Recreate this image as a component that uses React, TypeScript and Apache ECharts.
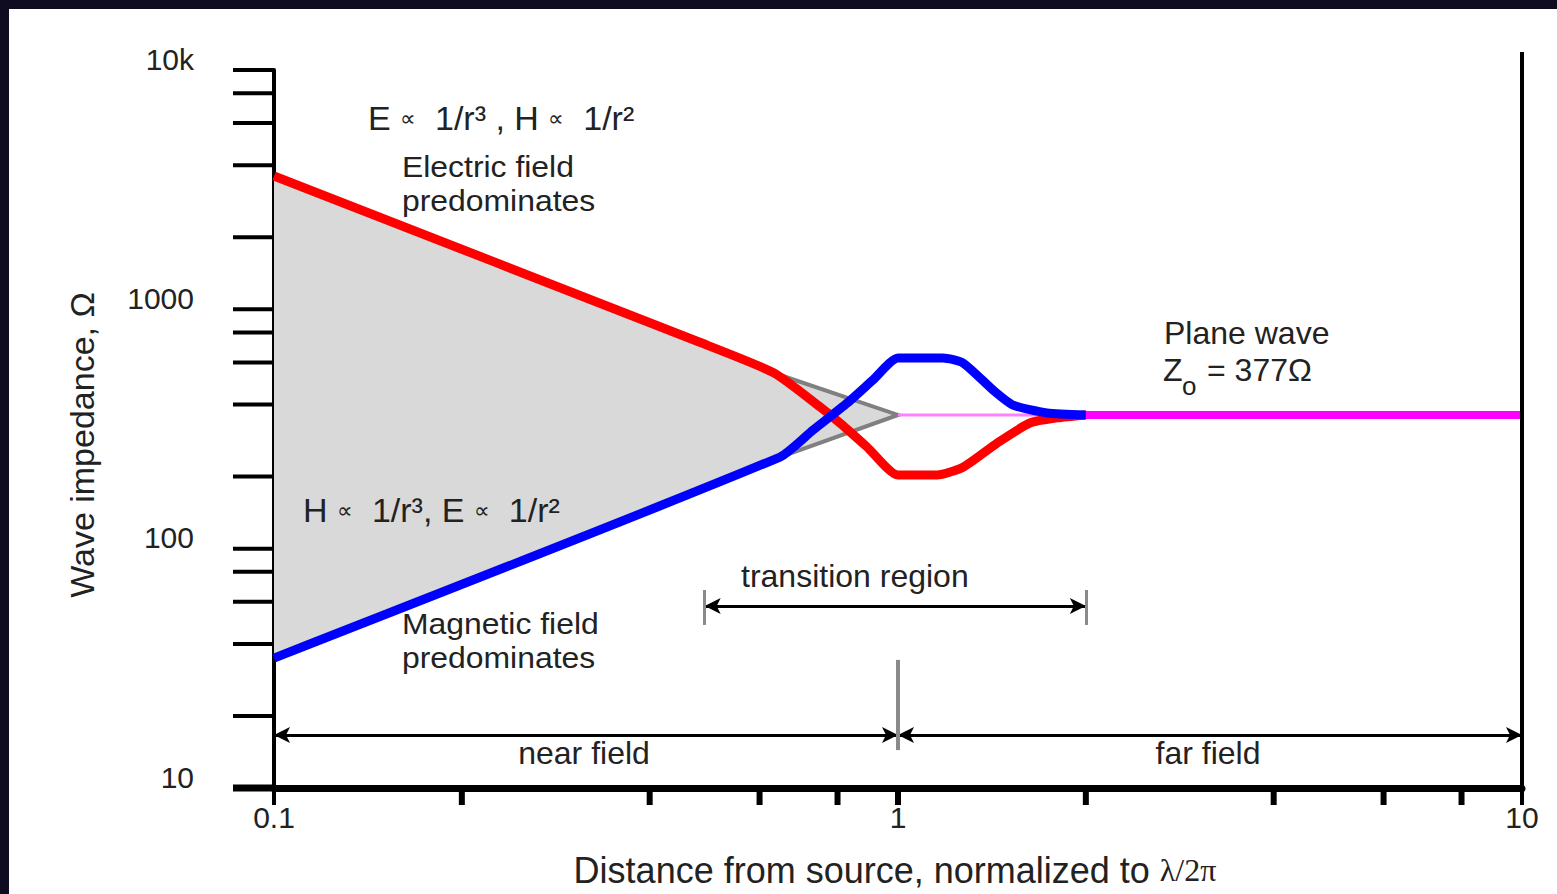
import React, { useEffect, useRef } from "react";
import * as echarts from "echarts";

// ---------- data ----------
const xTicks = [0.1, 0.2, 0.4, 0.6, 0.8, 1, 2, 4, 6, 8, 10];
const yTicks = [10, 20, 40, 60, 80, 100, 200, 400, 600, 800, 1000, 2000, 4000, 6000, 8000, 10000];

// Electric-field dominated wave impedance (red)
const eFieldX = [0.1, 0.48, 0.633, 0.75, 0.807, 0.892, 1.0, 1.155, 1.271, 1.441, 1.627, 1.798, 2.0];
const eFieldY = [3606, 730, 542, 391, 335, 266, 203, 203, 219, 276, 335, 352, 362];

// Magnetic-field dominated wave impedance (blue)
const hFieldX = [0.1, 0.647, 0.731, 0.829, 0.912, 1.0, 1.18, 1.271, 1.42, 1.529, 1.733, 2.0];
const hFieldY = [34.9, 241.5, 313, 406, 507, 626, 626, 597, 460, 398, 369, 362];

// near-field shaded wedge
const nearTopX = [0.1, 0.48, 0.633, 1.0];
const nearTopY = [3606, 730, 542, 362];
const nearBottomX = [1.0, 0.647, 0.1];
const nearBottomY = [362, 241.5, 34.9];

// plane wave impedance
const planeZ = 362;
const transitionPlaneX = [1.0, 2.0];
const farPlaneX = [2.0, 10];

// region arrows
const nearRange = [0.1, 1];
const farRange = [1, 10];
const transitionRange = [0.49, 2.0];
const regionArrowY = 16.65;
const transitionArrowY = 57.6;
const boundaryMark = [14.4, 34.3];
const transitionMark = [48, 67.2];

const FONT = "'Liberation Sans', Arial, Helvetica, sans-serif";
const INK = "#222";

const zip = (xs: number[], ys: number[]) => xs.map((x, i) => [x, ys[i]]);

function txt(x: number, y: number, text: string, size = 32, extra: any = {}, el: any = {}) {
  return {
    type: "text",
    x,
    y,
    z: 100,
    silent: true,
    ...el,
    style: {
      text,
      fill: INK,
      fontSize: size,
      fontFamily: FONT,
      textAlign: "left",
      textVerticalAlign: "middle",
      align: "left",
      verticalAlign: "middle",
      ...extra,
    },
  };
}

export default function App() {
  const ref = useRef<HTMLDivElement>(null);

  useEffect(() => {
    if (!ref.current) return;
    const chart = echarts.init(ref.current, undefined, { renderer: "svg" });

    const rich = {
      t: { fontSize: 34, fontFamily: FONT, fill: INK, color: INK },
      p: { fontSize: 22, fontFamily: FONT, fill: INK, color: INK },
    };

    const markStyle = (w: number) => ({ symbol: "none", lineStyle: { color: "#8a8a8a", width: w, type: "solid" } });

    const option: any = {
      animation: false,
      backgroundColor: "#ffffff",
      grid: { left: 274, right: 35, top: 70, bottom: 106 },
      xAxis: {
        type: "log",
        logBase: 10,
        min: 0.1,
        max: 10,
        axisLine: { show: true, onZero: false, lineStyle: { color: "#000", width: 7 } },
        axisTick: { show: false },
        splitLine: { show: false },
        axisLabel: {
          color: INK,
          fontSize: 30,
          fontFamily: FONT,
          margin: 14,
          formatter: (v: number) => String(+Number(v).toPrecision(3)),
        },
      },
      yAxis: {
        type: "log",
        logBase: 10,
        min: 10,
        max: 10000,
        axisLine: { show: true, lineStyle: { color: "#000", width: 4 } },
        axisTick: { show: false },
        splitLine: { show: false },
        axisLabel: {
          color: INK,
          fontSize: 30,
          fontFamily: FONT,
          margin: 80,
          verticalAlign: "bottom",
          lineHeight: 22,
          formatter: (v: number) => (v >= 10000 ? "10k" : String(Math.round(v))),
        },
      },
      series: [
        {
          name: "near field wedge",
          type: "custom",
          silent: true,
          z: 1,
          data: [[nearTopX[0], nearTopY[0]]],
          renderItem: (_p: any, api: any) => {
            const top = nearTopX.map((x, i) => api.coord([x, nearTopY[i]]));
            const bot = nearBottomX.map((x, i) => api.coord([x, nearBottomY[i]]));
            return {
              type: "group",
              children: [
                {
                  type: "polygon",
                  shape: { points: [...top, ...bot] },
                  style: { fill: "#d9d9d9", stroke: null },
                },
                {
                  type: "polyline",
                  shape: { points: [top[2], top[3], bot[1]] },
                  style: { stroke: "#808080", lineWidth: 4, fill: null },
                },
              ],
            };
          },
        },
        {
          name: "plane wave (transition)",
          type: "line",
          silent: true,
          z: 2,
          symbol: "none",
          data: zip(transitionPlaneX, [planeZ, planeZ]),
          lineStyle: { color: "#ff80ff", width: 3 },
          markLine: {
            silent: true,
            symbol: ["arrow", "arrow"],
            symbolSize: [12, 16],
            label: { show: false },
            lineStyle: { color: "#000", width: 3, type: "solid" },
            data: [
              [{ coord: [nearRange[0], regionArrowY] }, { coord: [nearRange[1], regionArrowY] }],
              [{ coord: [farRange[0], regionArrowY] }, { coord: [farRange[1], regionArrowY] }],
              [
                { coord: [transitionRange[0], transitionArrowY] },
                { coord: [transitionRange[1], transitionArrowY] },
              ],
              [
                { coord: [1, boundaryMark[0]], ...markStyle(4) },
                { coord: [1, boundaryMark[1]], ...markStyle(4) },
              ],
              [
                { coord: [transitionRange[0], transitionMark[0]], ...markStyle(3) },
                { coord: [transitionRange[0], transitionMark[1]], ...markStyle(3) },
              ],
              [
                { coord: [transitionRange[1], transitionMark[0]], ...markStyle(3) },
                { coord: [transitionRange[1], transitionMark[1]], ...markStyle(3) },
              ],
            ],
          },
        },
        {
          name: "E field",
          type: "line",
          silent: true,
          z: 3,
          symbol: "none",
          smooth: 0.2,
          data: zip(eFieldX, eFieldY),
          lineStyle: { color: "#ff0000", width: 9 },
        },
        {
          name: "H field",
          type: "line",
          silent: true,
          z: 4,
          symbol: "none",
          smooth: 0.2,
          data: zip(hFieldX, hFieldY),
          lineStyle: { color: "#0000ff", width: 9 },
        },
        {
          name: "plane wave",
          type: "line",
          silent: true,
          z: 5,
          symbol: "none",
          data: zip(farPlaneX, [planeZ, planeZ]),
          lineStyle: { color: "#ff00ff", width: 8 },
        },
        {
          name: "y ticks",
          type: "custom",
          silent: true,
          z: 6,
          data: yTicks.map((v) => [0.1, v]),
          renderItem: (_p: any, api: any) => {
            const v = api.value(1);
            const p = api.coord([0.1, v]);
            return {
              type: "line",
              shape: { x1: p[0] - 41, y1: p[1], x2: p[0], y2: p[1] },
              style: { stroke: "#000", lineWidth: v === 10 ? 7 : 4 },
            };
          },
        },
        {
          name: "x ticks",
          type: "custom",
          silent: true,
          z: 6,
          data: xTicks.map((v) => [v, 10]),
          renderItem: (_p: any, api: any) => {
            const v = api.value(0);
            const p = api.coord([v, 10]);
            const edge = v === 0.1 || v === 10;
            const topY = v === 10 ? api.coord([10, 10000])[1] - 18 : p[1];
            return {
              type: "line",
              shape: { x1: p[0], y1: p[1] + 17, x2: p[0], y2: topY },
              style: { stroke: "#000", lineWidth: edge ? 4 : 6 },
            };
          },
        },
      ],
      graphic: [
        { type: "rect", z: 100, silent: true, shape: { x: 0, y: 0, width: 1557, height: 9 }, style: { fill: "#0f0c22" } },
        { type: "rect", z: 100, silent: true, shape: { x: 0, y: 0, width: 9, height: 894 }, style: { fill: "#0f0c22" } },
        {
          type: "text",
          x: 368,
          y: 118,
          z: 100,
          silent: true,
          style: {
            text: "{t|E }{p|∝}{t|  1/r³ , H }{p|∝}{t|  1/r²}",
            rich,
            textVerticalAlign: "middle",
            verticalAlign: "middle",
          },
        },
        txt(402, 184, "Electric field\npredominates", 29, { lineHeight: 34 }, { scaleX: 1.1 }),
        {
          type: "text",
          x: 303,
          y: 510,
          z: 100,
          silent: true,
          style: {
            text: "{t|H }{p|∝}{t|  1/r³, E }{p|∝}{t|  1/r²}",
            rich,
            textVerticalAlign: "middle",
            verticalAlign: "middle",
          },
        },
        txt(402, 641, "Magnetic field\npredominates", 29, { lineHeight: 34 }, { scaleX: 1.1 }),
        txt(1164, 333, "Plane wave"),
        txt(1163, 370, "Z"),
        txt(1182, 386, "o", 26),
        txt(1207, 370, "= 377Ω"),
        txt(741, 576, "transition region"),
        txt(584, 753, "near field", 32, { textAlign: "center", align: "center" }),
        txt(1208, 753, "far field", 32, { textAlign: "center", align: "center" }),
        {
          type: "text",
          x: 895,
          y: 870,
          z: 100,
          silent: true,
          style: {
            text: "{t|Distance from source, normalized to }{s|λ/2π}",
            rich: {
              t: { fontSize: 36, fontFamily: FONT, fill: INK, color: INK },
              s: { fontSize: 32, fontFamily: "'Liberation Serif', 'DejaVu Serif', serif", fill: INK, color: INK },
            },
            textAlign: "center",
            align: "center",
            textVerticalAlign: "middle",
            verticalAlign: "middle",
          },
        },
        {
          type: "text",
          x: 82,
          y: 445,
          z: 100,
          rotation: Math.PI / 2,
          silent: true,
          style: {
            text: "Wave impedance, Ω",
            fill: INK,
            fontSize: 34,
            fontFamily: FONT,
            textAlign: "center",
            align: "center",
            textVerticalAlign: "middle",
            verticalAlign: "middle",
          },
        },
      ],
    };

    chart.setOption(option);
    return () => chart.dispose();
  }, []);

  return (
    <div
      ref={ref}
      style={{ position: "fixed", left: 0, top: 0, width: 1557, height: 894, background: "#fff" }}
    />
  );
}
